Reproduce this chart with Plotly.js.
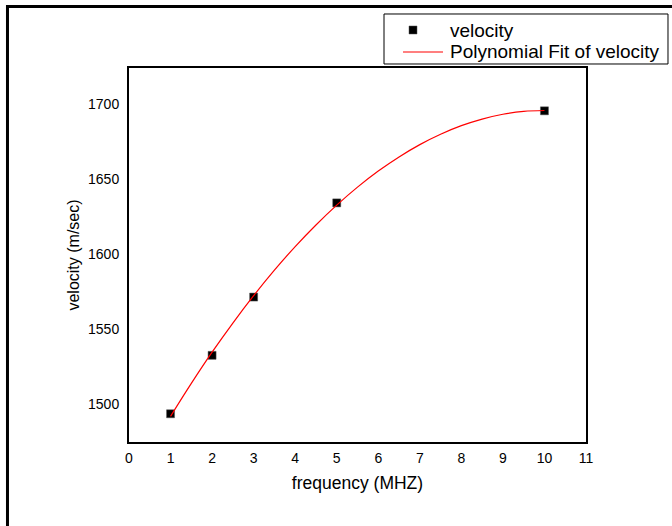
<!DOCTYPE html>
<html>
<head>
<meta charset="utf-8">
<script src="https://cdn.plot.ly/plotly-3.0.1.min.js"></script>
<style>
html,body{margin:0;padding:0;background:#fff;}
#chart{width:672px;height:526px;}
</style>
</head>
<body>
<div id="chart"></div>
<script>
// measured data
var frequency = [1, 2, 3, 5, 10];
var velocity = [1493.8, 1532.7, 1571.5, 1634.2, 1695.5];

// polynomial fit curve
var fitX = [1, 1.5, 2, 2.5, 3, 3.5, 4, 4.5, 5, 5.5, 6, 6.5, 7, 7.5, 8, 8.5, 9, 9.5, 10];
var fitY = [1492.1, 1514.0, 1534.8, 1554.2, 1572.4, 1589.4, 1605.1, 1619.5, 1632.7, 1644.7,
            1655.4, 1664.8, 1673.0, 1679.9, 1685.6, 1690.0, 1693.2, 1695.1, 1695.7];

var xTicks = [0, 1, 2, 3, 4, 5, 6, 7, 8, 9, 10, 11];
var yTicks = [1500, 1550, 1600, 1650, 1700];
var legendNames = ["velocity", "Polynomial Fit of velocity"];

var font = "Liberation Sans, Arial, sans-serif";

var traces = [
  {
    x: frequency, y: velocity, mode: "markers", type: "scatter", name: legendNames[0],
    marker: {symbol: "square", size: 8, color: "#000", line: {color: "#555", width: 0.5}}
  },
  {
    x: fitX, y: fitY, mode: "lines", type: "scatter", name: legendNames[1],
    line: {color: "#ff0000", width: 1.2, shape: "spline"}
  }
];

// legend drawn as paper-positioned shapes + annotations
var legendShapes = [
  {type: "rect", xref: "paper", yref: "paper", x0: 0.558, x1: 1.1794, y0: 1.0107, y1: 1.1444,
   line: {color: "#000", width: 1}, fillcolor: "#fff", layer: "above"},
  {type: "rect", xref: "paper", yref: "paper", x0: 0.6127, x1: 0.6302, y0: 1.0909, y1: 1.1123,
   line: {color: "#555", width: 0.5}, fillcolor: "#000", layer: "above"},
  {type: "line", xref: "paper", yref: "paper", x0: 0.5996, x1: 0.6871, y0: 1.0428, y1: 1.0428,
   line: {color: "#ff0000", width: 1.2}, layer: "above"}
];
var legendAnnotations = [
  {xref: "paper", yref: "paper", x: 0.6985, y: 1.1016, xanchor: "left", yanchor: "middle",
   text: legendNames[0], showarrow: false, font: {family: font, size: 19, color: "#000"}},
  {xref: "paper", yref: "paper", x: 0.6985, y: 1.0428, xanchor: "left", yanchor: "middle",
   text: legendNames[1], showarrow: false, font: {family: font, size: 19, color: "#000"}}
];

var layout = {
  width: 672, height: 526,
  margin: {l: 129, r: 86, t: 68, b: 84, pad: 0, autoexpand: false},
  paper_bgcolor: "#fff", plot_bgcolor: "#fff",
  font: {family: font, color: "#000", size: 14},
  showlegend: false,
  xaxis: {
    range: [0, 11], tickvals: xTicks, ticktext: xTicks.map(String),
    showgrid: false, zeroline: false, ticks: "", ticklabelstandoff: 2,
    showline: true, linecolor: "#000", linewidth: 2, mirror: true,
    tickfont: {family: font, size: 14, color: "#000"},
    title: {text: "frequency (MHZ)", font: {family: font, size: 17.5, color: "#000"}, standoff: 12}
  },
  yaxis: {
    range: [1475, 1724], tickvals: yTicks, ticktext: yTicks.map(String),
    showgrid: false, zeroline: false, ticks: "", ticklabelstandoff: 5,
    showline: true, linecolor: "#000", linewidth: 2, mirror: true,
    tickfont: {family: font, size: 14, color: "#000"},
    title: {text: "velocity (m/sec)", font: {family: font, size: 16, color: "#000"}, standoff: 4}
  },
  shapes: [
    {type: "rect", xref: "paper", yref: "paper",
     x0: -0.2659, x1: 2, y0: -1, y1: 1.1644,
     line: {color: "#000", width: 3}, fillcolor: "rgba(0,0,0,0)", layer: "below"}
  ].concat(legendShapes),
  annotations: legendAnnotations
};

Plotly.newPlot("chart", traces, layout, {displayModeBar: false, staticPlot: true});
</script>
</body>
</html>
